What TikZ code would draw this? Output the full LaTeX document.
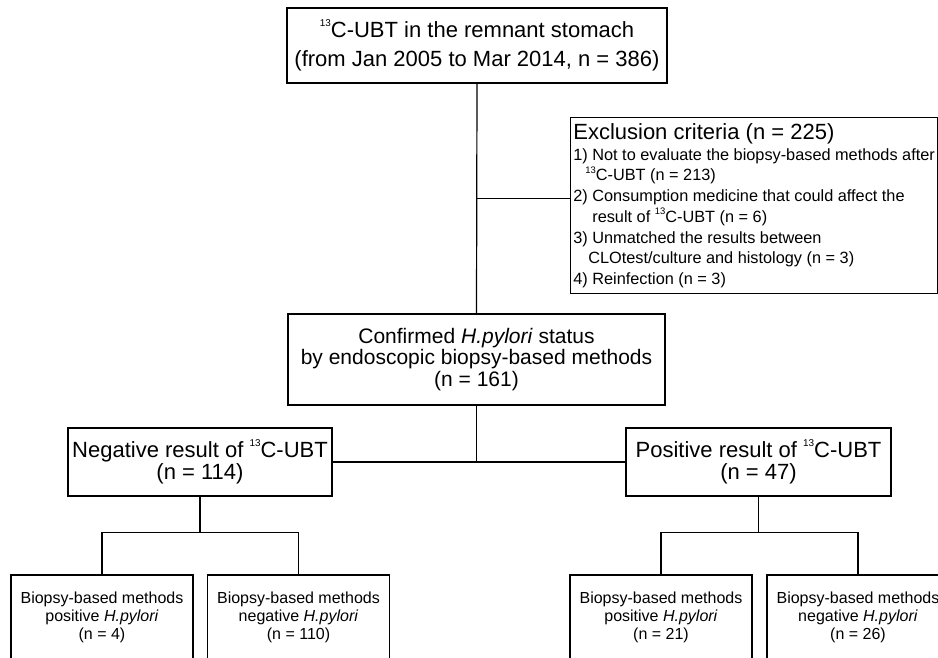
\documentclass[tikz,border=0pt]{standalone}
\usepackage{graphicx}
\usepackage{fontspec}
\setmainfont{Liberation Sans}
\usetikzlibrary{calc}
\newcommand{\isonum}[1][0.45]{\raisebox{0.48em}{\scalebox{#1}{13}}}
\begin{document}
\begin{tikzpicture}[x=1pt,y=-1pt,line width=1.2pt,
  box/.style={draw,rectangle,align=center,inner sep=0pt},
  bigtxt/.style={font=\fontsize{22}{29}\selectfont},
  midtxt/.style={font=\fontsize{21}{21.5}\selectfont},
  restxt/.style={font=\fontsize{22}{22}\selectfont},
  leaf/.style={box,minimum width=182pt,minimum height=85pt,font=\fontsize{16}{18}\selectfont}]
\useasboundingbox (0,0) rectangle (938,658);
\clip (0,0) rectangle (938,658);

\node[box,bigtxt,minimum width=380pt,minimum height=75pt] (top) at (477,45.5)
  {\isonum C-UBT in the remnant stomach\\(from Jan 2005 to Mar 2014, n = 386)};

\node[draw,anchor=north west,align=left,inner xsep=1pt,inner ysep=6pt,
      minimum width=367pt,minimum height=173pt,font=\fontsize{16.3}{20.7}\selectfont] (excl) at (570,117)
  {{\fontsize{22}{22}\selectfont Exclusion criteria (n = 225)}\\
   1) Not to evaluate the biopsy-based methods after\\
   \hspace*{12pt}\isonum[0.58]C-UBT (n = 213)\\
   2) Consumption medicine that could affect the\\
   \hspace*{19pt}result of \isonum[0.58]C-UBT (n = 6)\\
   3) Unmatched the results between\\
   \hspace*{15pt}CLOtest/culture and histology (n = 3)\\
   4) Reinfection (n = 3)};

\node[box,midtxt,minimum width=377pt,minimum height=91pt] (mid) at (476.5,359.5)
  {Confirmed \textit{H.pylori} status\\by endoscopic biopsy-based methods\\(n = 161)};

\node[box,restxt,minimum width=264pt,minimum height=68pt] (neg) at (200,462)
  {Negative result of \isonum C-UBT\\(n = 114)};
\node[box,restxt,minimum width=265pt,minimum height=68pt] (pos) at (758.5,462)
  {Positive result of \isonum C-UBT\\(n = 47)};

\node[leaf] (b1) at (102,617.5) {Biopsy-based methods\\positive \textit{H.pylori}\\(n = 4)};
\node[leaf] (b2) at (298.5,617.5) {Biopsy-based methods\\negative \textit{H.pylori}\\(n = 110)};
\node[leaf] (b3) at (661,617.5) {Biopsy-based methods\\positive \textit{H.pylori}\\(n = 21)};
\node[leaf] (b4) at (858,617.5) {Biopsy-based methods\\negative \textit{H.pylori}\\(n = 26)};

\draw (top.south) -- (mid.north);
\coordinate (ej) at ($(excl.north west)!0.46!(excl.south west)$);
\draw (ej -| top.south) -- (ej);
\draw (mid.south) -- (mid.south |- neg.east);
\draw (neg.east) -- (pos.west);

\coordinate (nj) at ($(neg.south)+(0,36)$);
\draw (neg.south) -- (nj);
\draw (b1.north) |- (nj) -| (b2.north);
\coordinate (pj) at ($(pos.south)+(0,36)$);
\draw (pos.south) -- (pj);
\draw (b3.north) |- (pj) -| (b4.north);
\end{tikzpicture}
\end{document}
